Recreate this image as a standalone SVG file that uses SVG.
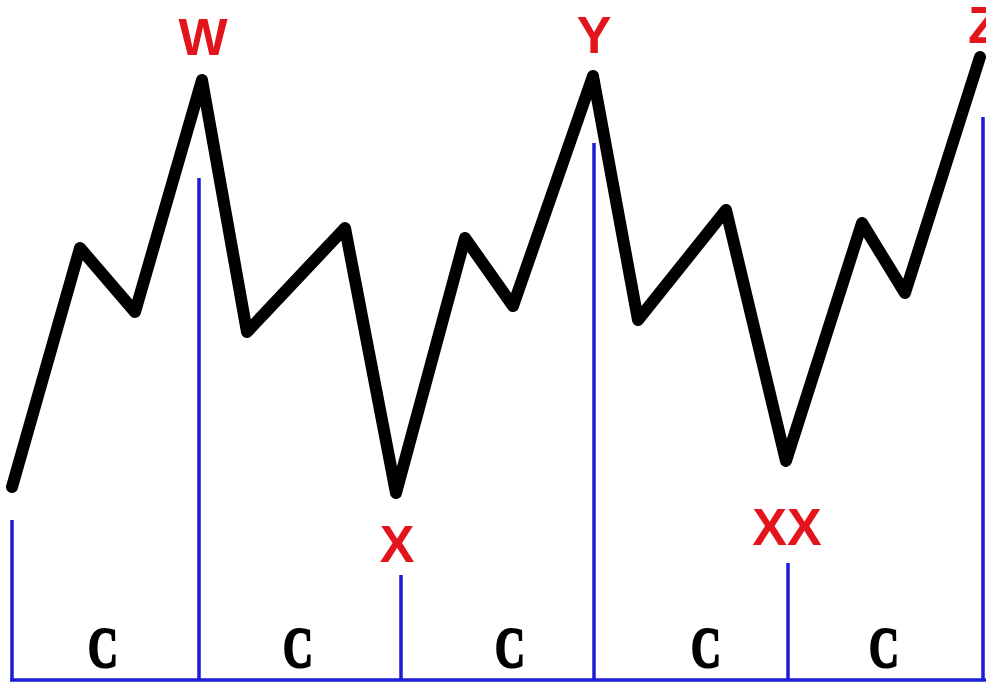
<svg xmlns="http://www.w3.org/2000/svg" width="986" height="684" viewBox="0 0 986 684">
<style>
.wave{fill:none;stroke:#000;stroke-width:12;stroke-linejoin:round;stroke-linecap:round}
.blue{stroke:#1c1cd8;stroke-width:3.5;fill:none}
.lbl{font-family:"Liberation Sans",Arial,sans-serif;font-weight:bold;font-size:52px;fill:#e3141b;text-anchor:middle}
.c{font-family:"Liberation Serif","Times New Roman",serif;font-weight:bold;font-size:58px;fill:#000;stroke:#000;stroke-width:2.2;text-anchor:middle}
</style>
<rect width="986" height="684" fill="#fff"/>
<g id="connectors">
<polyline class="wave" points="12,487 80,248 135,312 202,80 247,332 345,228 396,493 465,238 513,306 593,76 638,320 726,210 786,461 862,223 905,293 980,57"/>
<path class="blue" d="M12,520V680M199,178V680M401,575V680M594,143V680M788,563V680M983,117V680M10,680H986"/>
</g>
<g id="W"><text class="lbl" x="203" y="55">W</text></g>
<g id="Y"><text class="lbl" x="594" y="53">Y</text></g>
<g id="Z"><text class="lbl" x="984" y="43">Z</text></g>
<g id="X"><text class="lbl" x="397" y="562">X</text></g>
<g id="XX"><text class="lbl" x="787" y="545">XX</text></g>
<g id="c1"><text class="c" x="103" y="667" textLength="30" lengthAdjust="spacingAndGlyphs">C</text></g>
<g id="c2"><text class="c" x="298" y="667" textLength="30" lengthAdjust="spacingAndGlyphs">C</text></g>
<g id="c3"><text class="c" x="510" y="667" textLength="30" lengthAdjust="spacingAndGlyphs">C</text></g>
<g id="c4"><text class="c" x="706" y="667" textLength="30" lengthAdjust="spacingAndGlyphs">C</text></g>
<g id="c5"><text class="c" x="884" y="667" textLength="30" lengthAdjust="spacingAndGlyphs">C</text></g>
</svg>
